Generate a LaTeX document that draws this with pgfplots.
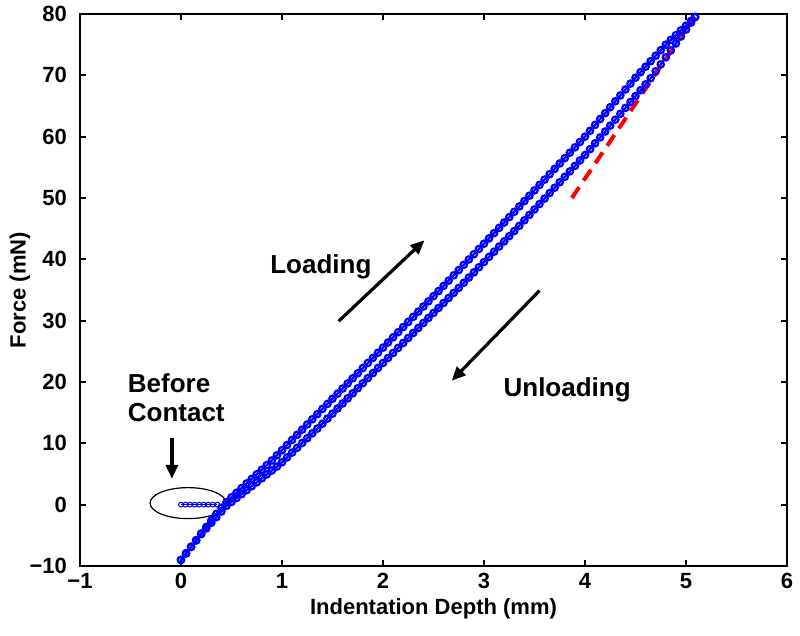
\documentclass[border=0pt]{standalone}
\usepackage{fontspec}
\setmainfont{Liberation Sans}
\usepackage{pgfplots}
\usepackage{pgfplotstable}
\pgfplotsset{compat=1.18}
\usetikzlibrary{arrows.meta}

\pgfplotstableread{
x y
0.00 -9.00
0.05 -7.93
0.10 -6.86
0.15 -5.79
0.20 -4.71
0.25 -3.64
0.30 -2.57
0.35 -1.50
0.40 -0.50
0.45 0.40
0.50 1.20
0.55 1.95
0.60 2.70
0.65 3.45
0.70 4.20
0.75 4.95
0.80 5.70
0.85 6.45
0.90 7.20
0.95 8.04
1.00 8.88
1.05 9.72
1.10 10.56
1.15 11.40
1.20 12.24
1.25 13.08
1.30 13.92
1.35 14.76
1.40 15.60
1.45 16.43
1.50 17.27
1.55 18.10
1.60 18.93
1.65 19.77
1.70 20.60
1.75 21.43
1.80 22.27
1.85 23.10
1.90 23.93
1.95 24.77
2.00 25.60
2.05 26.44
2.10 27.28
2.15 28.12
2.20 28.96
2.25 29.80
2.30 30.63
2.35 31.47
2.40 32.31
2.45 33.15
2.50 33.99
2.55 34.83
2.60 35.67
2.65 36.53
2.70 37.39
2.75 38.25
2.80 39.11
2.85 39.97
2.90 40.83
2.95 41.69
3.00 42.55
3.05 43.41
3.10 44.27
3.15 45.13
3.20 46.00
3.25 46.88
3.30 47.75
3.35 48.63
3.40 49.50
3.45 50.38
3.50 51.25
3.55 52.13
3.60 53.00
3.65 53.88
3.70 54.75
3.75 55.63
3.80 56.50
3.85 57.38
3.90 58.25
3.95 59.13
4.00 60.00
4.05 60.96
4.10 61.92
4.15 62.88
4.20 63.84
4.25 64.80
4.30 65.76
4.35 66.72
4.40 67.69
4.45 68.65
4.50 69.61
4.55 70.52
4.60 71.41
4.65 72.31
4.70 73.20
4.75 74.10
4.80 75.00
4.85 75.78
4.90 76.55
4.95 77.33
5.00 78.10
5.05 78.88
5.09 79.50
}\loading

\pgfplotstableread{
x y
0.00 -9.00
0.05 -7.95
0.10 -6.90
0.15 -5.85
0.20 -4.80
0.25 -3.88
0.30 -2.96
0.35 -2.04
0.40 -1.12
0.45 -0.20
0.50 0.44
0.55 1.08
0.60 1.72
0.65 2.36
0.70 3.00
0.75 3.64
0.80 4.29
0.85 4.93
0.90 5.57
0.95 6.21
1.00 6.91
1.05 7.70
1.10 8.49
1.15 9.27
1.20 10.06
1.25 10.84
1.30 11.63
1.35 12.41
1.40 13.20
1.45 14.03
1.50 14.85
1.55 15.68
1.60 16.50
1.65 17.33
1.70 18.15
1.75 18.98
1.80 19.80
1.85 20.63
1.90 21.45
1.95 22.28
2.00 23.10
2.05 23.92
2.10 24.73
2.15 25.55
2.20 26.36
2.25 27.18
2.30 28.00
2.35 28.81
2.40 29.63
2.45 30.44
2.50 31.26
2.55 32.07
2.60 32.89
2.65 33.70
2.70 34.52
2.75 35.34
2.80 36.18
2.85 37.02
2.90 37.87
2.95 38.71
3.00 39.56
3.05 40.40
3.10 41.25
3.15 42.09
3.20 42.93
3.25 43.78
3.30 44.62
3.35 45.47
3.40 46.36
3.45 47.25
3.50 48.14
3.55 49.02
3.60 49.91
3.65 50.80
3.70 51.68
3.75 52.57
3.80 53.45
3.85 54.34
3.90 55.23
3.95 56.11
4.00 57.00
4.05 57.96
4.10 58.92
4.15 59.88
4.20 60.84
4.25 61.80
4.30 62.77
4.35 63.73
4.40 64.69
4.45 65.65
4.50 66.61
4.55 67.57
4.60 68.53
4.65 69.53
4.70 70.66
4.75 71.79
4.80 72.93
4.85 74.06
4.90 75.19
4.95 76.33
5.00 77.46
5.05 78.59
5.09 79.50
}\unloading

\pgfplotstableread{
x y
0.000 0
0.045 0
0.090 0
0.135 0
0.180 0
0.225 0
0.270 0
0.315 0
0.360 0
}\before

\begin{document}
\begin{tikzpicture}
\begin{axis}[
  width=353.5pt, height=276pt, scale only axis,
  xmin=-1, xmax=6, ymin=-10, ymax=80,
  xtick={-1,0,1,2,3,4,5,6},
  xticklabels={−1,0,1,2,3,4,5,6},
  ytick={-10,0,10,20,30,40,50,60,70,80},
  yticklabels={−10,0,10,20,30,40,50,60,70,80},
  tick align=inside,
  major tick length=3pt,
  axis line style={line width=1pt},
  every tick/.style={black, line width=1pt},
  tick label style={font=\fontsize{11}{13}\selectfont\bfseries},
  yticklabel style={xshift=-3pt},
  xlabel={Indentation Depth (mm)},
  ylabel={Force (mN)},
  label style={font=\fontsize{11}{13}\selectfont\bfseries},
  xlabel style={at={(axis description cs:0.5,-0.078)}, anchor=center},
  ylabel style={at={(axis description cs:-0.085,0.5)}, anchor=center},
  clip=false,
]
\addplot [blue, line width=1.1pt, mark=o, mark size=1.6pt, mark options={solid}] table[x=x,y=y] {\loading};
\addplot [blue, line width=1.1pt, mark=o, mark size=1.6pt, mark options={solid}] table[x=x,y=y] {\unloading};
\addplot [blue, line width=0.5pt, mark=o, mark size=1.2pt] table[x=x,y=y] {\before};
\addplot [red, line width=2pt, dash pattern=on 6.5pt off 4pt] coordinates {(3.87,50) (5.08,79.5)};

\draw [black, line width=0.6pt] (axis cs:0.07,0.25) ellipse [x radius=19pt, y radius=7.75pt];

\draw [-{Triangle[length=7pt,width=6pt]}, line width=1.6pt] (axis cs:-0.09,10.8) -- (axis cs:-0.09,4.2);
\draw [-{Triangle[length=7pt,width=6pt]}, line width=1.6pt] (axis cs:1.56,29.9) -- (axis cs:2.41,43.1);
\draw [-{Triangle[length=7pt,width=6pt]}, line width=1.6pt] (axis cs:3.55,34.9) -- (axis cs:2.68,20.2);

\node [anchor=base west, font=\fontsize{13}{16}\selectfont\bfseries, inner sep=0pt] at (axis cs:-0.53,18.3) {Before};
\node [anchor=base west, font=\fontsize{13}{16}\selectfont\bfseries, inner sep=0pt] at (axis cs:-0.53,13.6) {Contact};
\node [anchor=west, font=\fontsize{13}{16}\selectfont\bfseries, inner sep=0pt] at (axis cs:0.88,38.7) {Loading};
\node [anchor=west, font=\fontsize{13}{16}\selectfont\bfseries, inner sep=0pt] at (axis cs:3.19,18.8) {Unloading};
\end{axis}
\pgfresetboundingbox
\path ([shift={(-40pt,-35pt)}]current axis.south west) rectangle ([shift={(6.5pt,7pt)}]current axis.north east);
\end{tikzpicture}
\end{document}
